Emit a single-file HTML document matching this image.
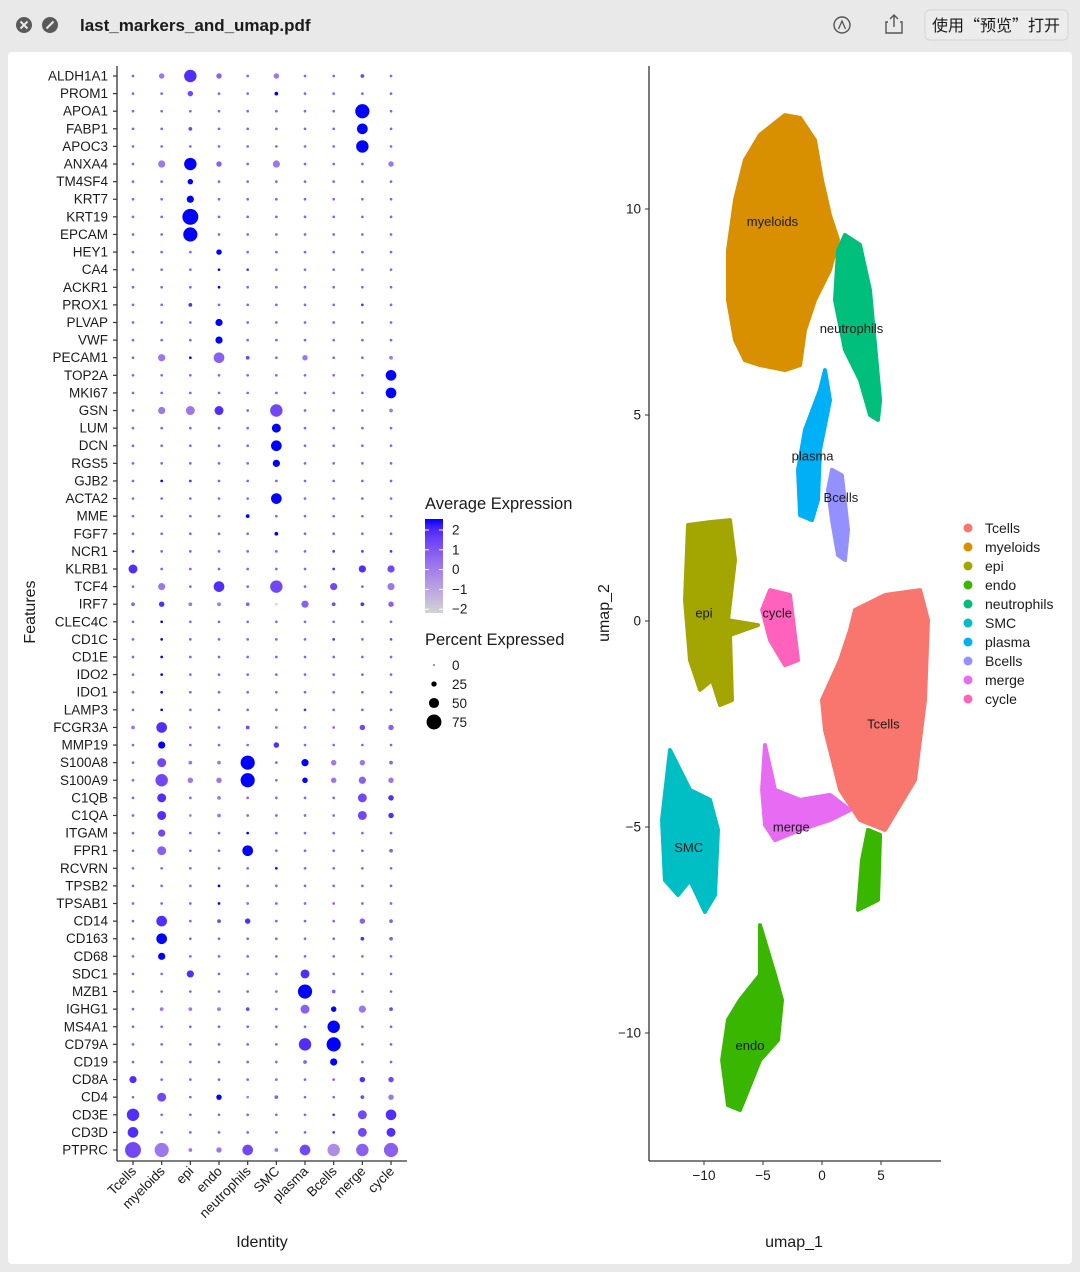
<!DOCTYPE html>
<html><head><meta charset="utf-8">
<style>
html,body{margin:0;padding:0;width:1080px;height:1272px;overflow:hidden;background:#e9e9e9;font-family:"Liberation Sans","Noto Sans CJK SC",sans-serif;}
#bar{position:absolute;left:0;top:0;width:1080px;height:52px;}
#panel{position:absolute;left:8px;top:52px;width:1064px;height:1212px;background:#fff;border-radius:4px;}
svg text{font-family:"Liberation Sans",sans-serif;fill:#1a1a1a;}
</style></head><body>
<div id="bar">
<svg width="1080" height="52">
<g><circle cx="24" cy="25" r="8" fill="#5a5a5a"/><path d="M20.5 21.5l7 7M27.5 21.5l-7 7" stroke="#e9e9e9" stroke-width="2"/></g>
<g><circle cx="50" cy="25" r="8" fill="#5a5a5a"/><path d="M46.5 28.5l7-7" stroke="#e9e9e9" stroke-width="2"/></g>
<text x="80" y="31" font-size="17" font-weight="bold" fill="#333">last_markers_and_umap.pdf</text>
<g><circle cx="842" cy="25" r="8" fill="none" stroke="#555" stroke-width="1.4"/><path d="M838.5 29l3.5-8 3.5 8" fill="none" stroke="#555" stroke-width="1.3"/></g>
<g><path d="M888 22h-2v11h16v-11h-2M894 15v12M890 19l4-4 4 4" fill="none" stroke="#555" stroke-width="1.4"/></g>
<g><rect x="925" y="10" width="143" height="30" rx="5" fill="#ececec" stroke="#d4d4d4"/>
<text x="996" y="31" font-size="16" text-anchor="middle" style="font-family:'Noto Sans CJK SC',sans-serif" fill="#444">使用“预览”打开</text></g>
</svg></div>
<div id="panel"></div>
<svg id="main" width="1080" height="1272" style="position:absolute;left:0;top:0"></svg>
<script>
// ---------- DOT PLOT DATA ----------
const genes=["ALDH1A1","PROM1","APOA1","FABP1","APOC3","ANXA4","TM4SF4","KRT7","KRT19","EPCAM","HEY1","CA4","ACKR1","PROX1","PLVAP","VWF","PECAM1","TOP2A","MKI67","GSN","LUM","DCN","RGS5","GJB2","ACTA2","MME","FGF7","NCR1","KLRB1","TCF4","IRF7","CLEC4C","CD1C","CD1E","IDO2","IDO1","LAMP3","FCGR3A","MMP19","S100A8","S100A9","C1QB","C1QA","ITGAM","FPR1","RCVRN","TPSB2","TPSAB1","CD14","CD163","CD68","SDC1","MZB1","IGHG1","MS4A1","CD79A","CD19","CD8A","CD4","CD3E","CD3D","PTPRC"];
const idents=["Tcells","myeloids","epi","endo","neutrophils","SMC","plasma","Bcells","merge","cycle"];
// percent expressed, code*10 (code 0 = 3%)
const pctRows=["0262020010","0020010000","0000000070","0010000050","0000000060","0362030002","0020000000","0030000000","0080000000","0070000000",
"0002000000","0000000000","0000000000","0010000000","0003000000","0003000000","0305102001","0000000005","0000000005","0344060001",
"0000040000","0000050000","0000030000","0000000000","0000050000","0000100000","0000010000","0000000000","4000000033","0305060303",
"1211103112","0000000000","0000000000","0000000000","0000000000","0000000000","0000000000","1500100022","0300020000","0411703221",
"0622702232","0401000042","0401000042","0300000000","0400500001","0000000000","0000000000","0000000000","0501200021","0500000011",
"0300000000","0030004000","0000007100","0111104231","0000000600","0000006700","0000001300","3000000022","0402010012","6000000045",
"5000000044","8712515667"];
// average expression code c -> value c/2-2
const exprRows=["5475545565","5565585555","5555555585","5565555585","5555555585","5485545554","5585555555","5585555555","5585555555","5585555555",
"5558555555","5558755555","5558555555","5575555575","5558555555","5558555555","5485654554","5555555558","5555555558","5447565554",
"5555585555","5555585555","5555585555","5875555555","5555585555","5555855555","5555585555","7555555777","7555555776","5457565654",
"5744505675","5855555555","5855555756","5855555555","5855555555","5855555555","5855557555","4755655565","5855575555","5644858445",
"5644858454","5754555567","5744555567","5655855555","5555855555","5555585555","5558555555","5558555555","5756755555","5855555575",
"5855555555","5575557555","5555558555","5444655846","5555555855","5555557855","5555555855","7555555576","5658455564","7555555767",
"7555555767","6444646355"];
const avgTicks=[2,1,0,-1,-2];
const pctTicks=[0,25,50,75];

// ---------- UMAP DATA ----------
const clusterNames=["Tcells","myeloids","epi","endo","neutrophils","SMC","plasma","Bcells","merge","cycle"];
const clusterColors=["#F8766D","#D89000","#A3A500","#39B600","#00BF7D","#00BFC4","#00B0F6","#9590FF","#E76BF3","#FF62BC"];
const umapTcells=[[2.8,0.27],[5.34,0.63],[8.31,0.75],[8.98,0.02],[8.73,-1.92],[7.88,-3.86],[5.34,-5.07],[3.22,-4.83],[1.53,-4.1],[0.25,-2.65],[0,-1.92],[1.53,-0.95],[2.37,-0.22]];
const umapMyeloids=[[-3.14,12.28],[-1.86,12.21],[-0.59,11.67],[0,10.7],[0.68,9.85],[1.36,9.25],[0.68,8.52],[-0.59,7.79],[-1.44,7.06],[-1.86,6.21],[-3.14,6.09],[-5.25,6.21],[-6.53,6.33],[-7.37,6.82],[-7.97,7.79],[-7.97,9.0],[-7.37,10.22],[-6.53,11.19],[-5.25,11.8]];
const umapEpi=[[-11.36,2.33],[-9.49,2.4],[-7.8,2.45],[-7.37,1.48],[-7.97,0.02],[-5.42,-0.1],[-7.8,-0.34],[-7.63,-1.92],[-8.64,-2.04],[-9.32,-1.43],[-10.34,-1.67],[-11.19,-0.95],[-11.61,0.51]];
const umapEndo=[[-5.25,-7.38],[-3.98,-8.59],[-3.39,-9.2],[-3.73,-10.17],[-5.25,-10.66],[-6.95,-11.87],[-7.97,-11.75],[-8.47,-10.66],[-7.97,-9.68],[-6.95,-9.2],[-5.25,-8.59]];
const umapEndoTail=[[3.9,-5.07],[4.92,-5.19],[4.75,-6.77],[3.05,-7.01],[3.39,-5.8]];
const umapNeutrophils=[[1.95,9.37],[3.22,9.13],[4.07,8.03],[4.92,5.36],[4.75,4.88],[4.07,5.0],[3.22,5.85],[1.95,6.58],[1.1,7.79],[1.36,9.0]];
const umapSMC=[[-12.88,-3.13],[-11.19,-4.1],[-9.49,-4.34],[-8.81,-5.07],[-9.07,-6.65],[-9.92,-7.06],[-11.19,-6.29],[-12.2,-6.65],[-13.31,-6.29],[-13.56,-4.83]];
const umapPlasma=[[0.25,6.09],[0.68,5.36],[-0.17,4.15],[-0.34,2.94],[-0.85,2.45],[-1.86,2.57],[-2.03,3.67],[-1.44,4.64],[-0.17,5.61]];
const umapBcells=[[0.85,3.67],[1.69,3.54],[2.2,2.21],[1.95,1.48],[1.36,1.6],[0.85,2.45],[0.51,3.18]];
const umapMerge=[[-4.83,-3.01],[-3.98,-4.1],[-1.86,-4.34],[0.68,-4.22],[2.37,-4.59],[0.68,-4.83],[-1.86,-5.07],[-3.98,-5.32],[-4.83,-4.95],[-5.08,-4.1]];
const umapCycle=[[-4.41,0.75],[-2.71,0.63],[-2.03,-0.95],[-3.14,-1.07],[-4.41,-0.46],[-5.08,0.27]];
const labelPos=[[5.2,-2.5],[-4.2,9.7],[-10.0,0.2],[-6.1,-10.3],[2.5,7.1],[-11.3,-5.5],[-0.8,4.0],[1.6,3.0],[-2.6,-5.0],[-3.8,0.2]];
const xTicks=[-10,-5,0,5];
const yTicks=[10,5,0,-5,-10];

const NS="http://www.w3.org/2000/svg";
const svg=document.getElementById('main');
function mk(tag,attrs,parent){const e=document.createElementNS(NS,tag);for(const k in attrs)e.setAttribute(k,attrs[k]);(parent||svg).appendChild(e);return e;}
function txt(s,x,y,size,anchor,parent){const t=mk('text',{x:x,y:y,'font-size':size,'text-anchor':anchor||'start'},parent);t.textContent=s;return t;}

// colour scale (Lab interpolation lightgrey -> blue)
function srgb2lin(c){c/=255;return c<=0.04045?c/12.92:Math.pow((c+0.055)/1.055,2.4);}
function lin2srgb(c){c=c<=0.0031308?12.92*c:1.055*Math.pow(c,1/2.4)-0.055;return Math.round(Math.max(0,Math.min(1,c))*255);}
function toLab(r,g,b){r=srgb2lin(r);g=srgb2lin(g);b=srgb2lin(b);let X=(0.4124*r+0.3576*g+0.1805*b)/0.95047,Y=0.2126*r+0.7152*g+0.0722*b,Z=(0.0193*r+0.1192*g+0.9505*b)/1.08883;const f=t=>t>0.008856?Math.cbrt(t):7.787*t+16/116;return[116*f(Y)-16,500*(f(X)-f(Y)),200*(f(Y)-f(Z))];}
function fromLab(L,a,bb){const fy=(L+16)/116,fx=fy+a/500,fz=fy-bb/200;const fi=t=>t>0.206893?t*t*t:(t-16/116)/7.787;const X=fi(fx)*0.95047,Y=fi(fy),Z=fi(fz)*1.08883;const r=3.2406*X-1.5372*Y-0.4986*Z,g=-0.9689*X+1.8758*Y+0.0415*Z,b=0.0557*X-0.2040*Y+1.0570*Z;return 'rgb('+lin2srgb(r)+','+lin2srgb(g)+','+lin2srgb(b)+')';}
const labLo=toLab(211,211,211),labHi=toLab(0,0,255);
function colorOf(v){const t=Math.max(0,Math.min(1,(v+2)/4));return fromLab(labLo[0]+(labHi[0]-labLo[0])*t,labLo[1]+(labHi[1]-labLo[1])*t,labLo[2]+(labHi[2]-labLo[2])*t);}
function radiusOf(p){return 1.0+p/11.5;}

// dot plot axes
const colX=i=>133+i*28.67;
const rowY=i=>76+i*(1074/61);
const dp=mk('g',{});


mk('line',{x1:117,y1:66,x2:117,y2:1161,stroke:'#333','stroke-width':1.3},dp);
mk('line',{x1:117,y1:1161,x2:407,y2:1161,stroke:'#333','stroke-width':1.3},dp);
genes.forEach((g,i)=>{
  const y=rowY(i);
  mk('line',{x1:113,y1:y,x2:117,y2:y,stroke:'#333','stroke-width':1.2},dp);
  const t=txt(g,108,y+4.5,13.5,'end',dp);
  
  
  for(let j=0;j<idents.length;j++){
    const pc=+pctRows[i][j], ec=+exprRows[i][j];
    const pct=pc===0?4:pc*10, val=ec/2-2;
    const c=mk('circle',{cx:colX(j),cy:y,r:radiusOf(pct),fill:colorOf(val)},dp);
    
    
  }
});
idents.forEach((n,j)=>{
  const x=colX(j);
  mk('line',{x1:x,y1:1161,x2:x,y2:1165,stroke:'#333','stroke-width':1.2},dp);
  const t=txt(n,x+4,1172,13.5,'end',dp);
  t.setAttribute('transform','rotate(-45 '+(x+4)+' 1172)');
  
  
});
const ft=txt('Features',35,612,16,'middle');ft.setAttribute('transform','rotate(-90 35 612)');

const it=txt('Identity',262,1247,16,'middle');


// legends
const lg=mk('g',{});


txt('Average Expression',425,509,16.5,'start',lg);
const grad=mk('linearGradient',{id:'cb',x1:0,y1:0,x2:0,y2:1},mk('defs',{}));
for(let k=0;k<=10;k++){mk('stop',{offset:k/10,'stop-color':colorOf(2-k*0.4)},grad);}
mk('rect',{x:425,y:519,width:18,height:94,fill:'url(#cb)'},lg);
avgTicks.forEach(v=>{const y=530+(2-v)*19.8;mk('line',{x1:425,y1:y,x2:429,y2:y,stroke:'#fff'},lg);mk('line',{x1:439,y1:y,x2:443,y2:y,stroke:'#fff'},lg);txt(v<0?'−'+(-v):String(v),452,y+4.5,13.5,'start',lg);});
txt('Percent Expressed',425,645,16.5,'start',lg);
pctTicks.forEach((p,k)=>{const y=665+k*19;mk('circle',{cx:434,cy:y,r:Math.max(0.7,0.3+p/10.5),fill:'#000'},lg);txt(String(p),452,y+5,13.5,'start',lg);});

// UMAP
const ux=v=>822+v*11.8;
const uy=v=>621-v*41.2;
const um=mk('g',{});


const polys=[[0,umapTcells],[1,umapMyeloids],[2,umapEpi],[3,umapEndo],[3,umapEndoTail],[4,umapNeutrophils],[5,umapSMC],[6,umapPlasma],[7,umapBcells],[8,umapMerge],[9,umapCycle]];
polys.forEach(([ci,pts])=>{
  const p=mk('polygon',{points:pts.map(q=>ux(q[0]).toFixed(1)+','+uy(q[1]).toFixed(1)).join(' '),fill:clusterColors[ci],stroke:clusterColors[ci],'stroke-width':4,'stroke-linejoin':'round'},um);
  
  
});
clusterNames.forEach((n,i)=>{
  const t=txt(n,ux(labelPos[i][0]),uy(labelPos[i][1])+4.5,13,'middle',um);
  
  
});
mk('line',{x1:649,y1:66,x2:649,y2:1161,stroke:'#333','stroke-width':1.3},um);
mk('line',{x1:649,y1:1161,x2:941,y2:1161,stroke:'#333','stroke-width':1.3},um);
xTicks.forEach(v=>{const x=ux(v);mk('line',{x1:x,y1:1161,x2:x,y2:1165,stroke:'#333'},um);txt(v<0?'−'+(-v):String(v),x,1180,13.5,'middle',um);});
yTicks.forEach(v=>{const y=uy(v);mk('line',{x1:645,y1:y,x2:649,y2:y,stroke:'#333'},um);txt(v<0?'−'+(-v):String(v),641,y+4.5,13.5,'end',um);});
const u1=txt('umap_1',794,1247,16,'middle');
const u2=txt('umap_2',609,613,16,'middle');u2.setAttribute('transform','rotate(-90 609 613)');

clusterNames.forEach((n,i)=>{
  const g=mk('g',{});
  
  
  const y=528+i*19;
  mk('circle',{cx:968,cy:y,r:4.5,fill:clusterColors[i]},g);
  txt(n,985,y+5,14,'start',g);
});
</script>
</body></html>
